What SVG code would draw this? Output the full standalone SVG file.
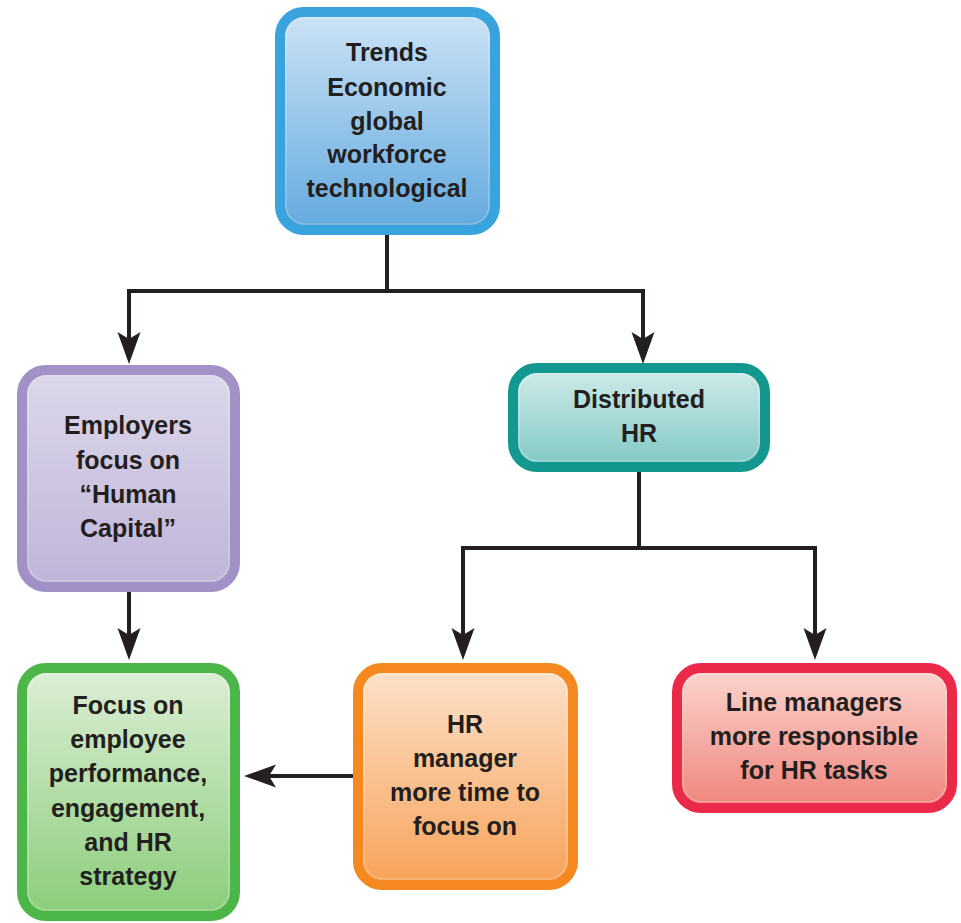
<svg xmlns="http://www.w3.org/2000/svg" width="961" height="923" viewBox="0 0 961 923">
<defs>
<linearGradient id="gBlue" x1="0" y1="0" x2="0" y2="1"><stop offset="0" stop-color="#cce3f5"/><stop offset="1" stop-color="#62a9df"/></linearGradient>
<linearGradient id="gPurple" x1="0" y1="0" x2="0" y2="1"><stop offset="0" stop-color="#ddd8eb"/><stop offset="1" stop-color="#bfb4d8"/></linearGradient>
<linearGradient id="gTeal" x1="0" y1="0" x2="0" y2="1"><stop offset="0" stop-color="#d0ebea"/><stop offset="1" stop-color="#80c8c4"/></linearGradient>
<linearGradient id="gGreen" x1="0" y1="0" x2="0" y2="1"><stop offset="0" stop-color="#ddeed6"/><stop offset="1" stop-color="#8acd7a"/></linearGradient>
<linearGradient id="gOrange" x1="0" y1="0" x2="0" y2="1"><stop offset="0" stop-color="#fde2ca"/><stop offset="1" stop-color="#f7a259"/></linearGradient>
<linearGradient id="gRed" x1="0" y1="0" x2="0" y2="1"><stop offset="0" stop-color="#fcd6cf"/><stop offset="1" stop-color="#ef857c"/></linearGradient>
<marker id="arr" viewBox="-26 -13 38 26" refX="0" refY="0" markerWidth="38" markerHeight="26" markerUnits="userSpaceOnUse" orient="auto">
<path d="M10,0 L-22,-11.5 L-15,0 L-22,11.5 Z" fill="#231f20"/>
</marker>
</defs>
<style>
.box{stroke-width:10}
.inner{fill:none;stroke:#ffffff;stroke-opacity:0.3;stroke-width:1.2}
.t{font-family:"Liberation Sans",Arial,sans-serif;font-weight:bold;font-size:25px;fill:#231f20;text-anchor:middle}
.conn{fill:none;stroke:#231f20;stroke-width:4;stroke-linejoin:miter}
</style>
<rect width="961" height="923" fill="#ffffff"/>

<g id="connectors">
<path class="conn" d="M387,235 V291 H129 V354" marker-end="url(#arr)"/>
<path class="conn" d="M387,291 H643 V354" marker-end="url(#arr)"/>
<path class="conn" d="M639,472 V548 H463 V650" marker-end="url(#arr)"/>
<path class="conn" d="M639,548 H815 V650" marker-end="url(#arr)"/>
<path class="conn" d="M129,592 V650" marker-end="url(#arr)"/>
<path class="conn" d="M353,776 H254" marker-end="url(#arr)"/>
</g>

<g id="trends">
<rect class="box" x="280" y="12" width="215" height="218" rx="24" fill="url(#gBlue)" stroke="#38a3dc"/>
<rect class="inner" x="286" y="18" width="203" height="206" rx="19"/>
<text class="t" x="387" y="61">Trends</text>
<text class="t" x="387" y="96">Economic</text>
<text class="t" x="387" y="130">global</text>
<text class="t" x="387" y="163">workforce</text>
<text class="t" x="387" y="197">technological</text>
</g>

<g id="employers">
<rect class="box" x="22" y="370" width="213" height="217" rx="24" fill="url(#gPurple)" stroke="#a291c6"/>
<rect class="inner" x="28" y="376" width="201" height="205" rx="19"/>
<text class="t" x="128" y="434">Employers</text>
<text class="t" x="128" y="469">focus on</text>
<text class="t" x="128" y="503">“Human</text>
<text class="t" x="128" y="537">Capital”</text>
</g>

<g id="distributed">
<rect class="box" x="513" y="368" width="252" height="99" rx="24" fill="url(#gTeal)" stroke="#12988e"/>
<rect class="inner" x="519" y="374" width="240" height="87" rx="19"/>
<text class="t" x="639" y="408">Distributed</text>
<text class="t" x="639" y="442">HR</text>
</g>

<g id="focus">
<rect class="box" x="22" y="668" width="213" height="248" rx="24" fill="url(#gGreen)" stroke="#4cb748"/>
<rect class="inner" x="28" y="674" width="201" height="236" rx="19"/>
<text class="t" x="128" y="714">Focus on</text>
<text class="t" x="128" y="748">employee</text>
<text class="t" x="128" y="782">performance,</text>
<text class="t" x="128" y="817">engagement,</text>
<text class="t" x="128" y="851">and HR</text>
<text class="t" x="128" y="885">strategy</text>
</g>

<g id="hrmanager">
<rect class="box" x="358" y="668" width="215" height="217" rx="24" fill="url(#gOrange)" stroke="#f5891f"/>
<rect class="inner" x="364" y="674" width="203" height="205" rx="19"/>
<text class="t" x="465" y="733">HR</text>
<text class="t" x="465" y="767">manager</text>
<text class="t" x="465" y="801">more time to</text>
<text class="t" x="465" y="835">focus on</text>
</g>

<g id="linemanagers">
<rect class="box" x="677" y="668" width="275" height="140" rx="24" fill="url(#gRed)" stroke="#eb2a4a"/>
<rect class="inner" x="683" y="674" width="263" height="128" rx="19"/>
<text class="t" x="814" y="711">Line managers</text>
<text class="t" x="814" y="745">more responsible</text>
<text class="t" x="814" y="779">for HR tasks</text>
</g>
</svg>
